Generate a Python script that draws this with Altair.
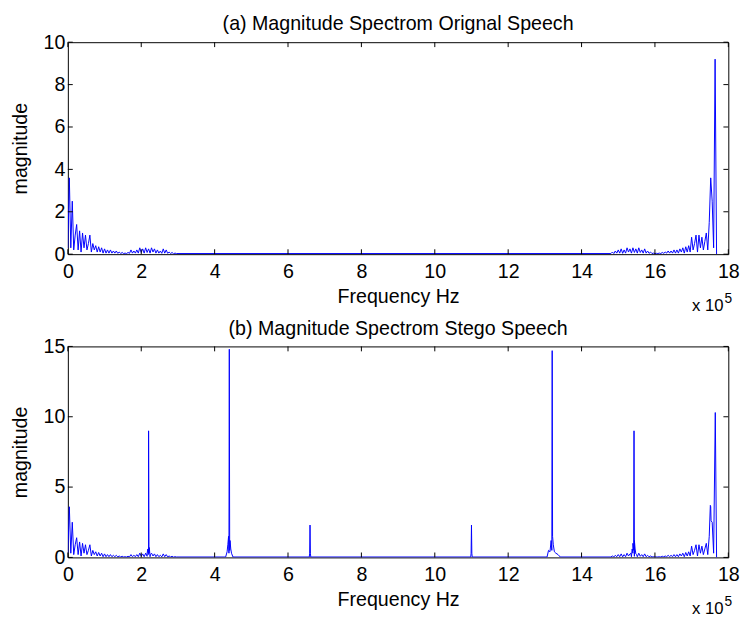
import altair as alt
import pandas as pd

FONT = "Liberation Sans"
W = 673
H_TOP = 216
H_BOT = 215

# Frequency given in units of 1e5 Hz (axis shows "x 10^5")
STEP = 0.04
LOW_START = 0.0
HIGH_START = 14.80

# Original speech spectrum, low-frequency end (0.00 .. 2.96)
orig_low_mag = [
    0.3, 3.6, 0.3, 2.5, 0.2, 0.9, 1.4, 0.2, 1.1, 0.1,
    1.0, 0.3, 0.9, 0.2, 0.5, 0.9, 0.1, 0.5, 0.2, 0.4,
    0.1, 0.35, 0.1, 0.3, 0.05, 0.25, 0.05, 0.2, 0.05, 0.2,
    0.05, 0.15, 0.05, 0.15, 0.04, 0.1, 0.03, 0.08, 0.03, 0.05,
    0.03, 0.08, 0.04, 0.2, 0.05, 0.15, 0.05, 0.2, 0.05, 0.3,
    0.08, 0.25, 0.05, 0.3, 0.08, 0.25, 0.05, 0.3, 0.1, 0.25,
    0.05, 0.2, 0.05, 0.15, 0.04, 0.25, 0.05, 0.2, 0.04, 0.1,
    0.03, 0.08, 0.02, 0.05, 0.03,
]

# Original speech spectrum, high-frequency end (14.80 .. 17.68)
orig_high_mag = [
    0.03, 0.1, 0.03, 0.15, 0.05, 0.2, 0.05, 0.25, 0.04, 0.2,
    0.05, 0.3, 0.1, 0.25, 0.05, 0.3, 0.08, 0.25, 0.05, 0.3,
    0.08, 0.2, 0.05, 0.25, 0.05, 0.15, 0.04, 0.1, 0.03, 0.05,
    0.03, 0.04, 0.03, 0.05, 0.03, 0.08, 0.04, 0.1, 0.05, 0.15,
    0.05, 0.15, 0.05, 0.2, 0.05, 0.2, 0.05, 0.25, 0.1, 0.3,
    0.05, 0.35, 0.1, 0.4, 0.1, 0.8, 0.2, 0.5, 0.9, 0.1,
    0.9, 0.3, 0.8, 0.2, 0.6, 1.0, 0.2, 1.5, 3.6, 2.5,
    0.3, 9.2, 0.0,
]

# Extra components in the stego speech spectrum (embedded tones and skirts)
stego_extra_f = [
    2.16, 2.18, 2.19, 2.20, 2.21, 2.22, 2.25,
    4.30, 4.34, 4.36, 4.38, 4.39, 4.40, 4.41, 4.42, 4.44, 4.46, 4.50,
    6.58, 6.59, 6.60, 6.61, 6.62,
    10.98, 10.99, 11.00, 11.01, 11.02,
    13.06, 13.10, 13.14, 13.17, 13.19, 13.20, 13.21, 13.23, 13.26, 13.30, 13.36, 13.42,
    15.34, 15.38, 15.40, 15.42, 15.43, 15.44, 15.46, 15.50,
    17.51, 17.53, 17.645,
]
stego_extra_m = [
    0.3, 0.6, 0.2, 9.0, 0.3, 0.7, 0.2,
    0.03, 0.4, 0.9, 1.5, 0.3, 14.8, 0.5, 1.2, 0.6, 0.3, 0.03,
    0.03, 0.3, 2.3, 0.3, 0.03,
    0.03, 0.3, 2.3, 0.3, 0.03,
    0.03, 0.5, 0.4, 1.2, 0.5, 14.7, 1.5, 0.9, 0.4, 0.3, 0.2, 0.03,
    0.3, 0.6, 1.0, 0.5, 9.0, 1.2, 0.6, 0.2,
    3.7, 2.6, 10.3,
]

x_ticks = [0, 2, 4, 6, 8, 10, 12, 14, 16, 18]
y_ticks_top = [0, 2, 4, 6, 8, 10]
y_ticks_bot = [0, 5, 10, 15]

low_f = [round(LOW_START + i * STEP, 2) for i in range(len(orig_low_mag))]
high_f = [round(HIGH_START + i * STEP, 2) for i in range(len(orig_high_mag))]

orig_df = pd.DataFrame({"f": low_f + high_f, "m": orig_low_mag + orig_high_mag})
stego_df = pd.concat(
    [orig_df, pd.DataFrame({"f": stego_extra_f, "m": stego_extra_m})],
    ignore_index=True,
).sort_values("f", kind="stable")

exp_df = pd.DataFrame({"base": ["x 10"], "exp": ["5"]})


def panel(df, ymax, yticks, title, H):
    xscale = alt.Scale(domain=[0, 18], nice=False, zero=False)
    yscale = alt.Scale(domain=[0, ymax], nice=False, zero=False)
    xaxis = alt.Axis(
        values=x_ticks, title="Frequency Hz", grid=False, ticks=False, domain=False,
        labelFontSize=20, labelFont=FONT, labelColor="black", labelPadding=8,
        labelFlush=False, titleFontSize=20, titleFont=FONT, titleFontWeight="normal",
        titleColor="black", titleY=33, titleBaseline="top",
    )
    yaxis = alt.Axis(
        values=yticks, title="magnitude", grid=False, ticks=False, domain=False,
        labelFontSize=20, labelFont=FONT, labelColor="black", labelPadding=3,
        labelFlush=False, titleFontSize=20, titleFont=FONT, titleFontWeight="normal",
        titleColor="black", titleX=-38,
    )
    xs = alt.X("f:Q", scale=xscale, axis=xaxis)
    ys = alt.Y("m:Q", scale=yscale, axis=yaxis)

    line = alt.Chart(df).mark_line(color="#0000ff", strokeWidth=1, clip=True).encode(x=xs, y=ys)

    xt = pd.DataFrame({"f": x_ticks})
    yt = pd.DataFrame({"m": yticks})
    tick_style = dict(color="black", strokeWidth=1)
    xb = alt.Chart(xt).mark_rule(**tick_style).encode(x=xs, y=alt.value(H), y2=alt.value(H - 5))
    xtp = alt.Chart(xt).mark_rule(**tick_style).encode(x=xs, y=alt.value(0), y2=alt.value(5))
    yl = alt.Chart(yt).mark_rule(**tick_style).encode(y=ys, x=alt.value(0), x2=alt.value(5))
    yr = alt.Chart(yt).mark_rule(**tick_style).encode(y=ys, x=alt.value(W), x2=alt.value(W - 5))

    base_txt = alt.Chart(exp_df).mark_text(
        align="left", baseline="alphabetic", fontSize=17, font=FONT, color="black"
    ).encode(x=alt.value(636), y=alt.value(H + 58), text="base:N")
    exp_txt = alt.Chart(exp_df).mark_text(
        align="left", baseline="alphabetic", fontSize=14, font=FONT, color="black"
    ).encode(x=alt.value(669), y=alt.value(H + 50), text="exp:N")

    return alt.layer(line, xb, xtp, yl, yr, base_txt, exp_txt).properties(
        width=W, height=H,
        title=alt.TitleParams(
            title, fontSize=20, font=FONT, fontWeight="normal", color="black",
            anchor="middle", offset=-2,
        ),
    )


top = panel(orig_df, 10, y_ticks_top, "(a) Magnitude Spectrom Orignal Speech", H_TOP)
bot = panel(stego_df, 15, y_ticks_bot, "(b) Magnitude Spectrom Stego Speech", H_BOT)

chart = alt.vconcat(top, bot, spacing=3).properties(
    padding={"left": 2, "top": 0, "right": 5, "bottom": 0}
).configure_view(stroke="black", strokeWidth=1)

chart.save("out.html", embed_options={"renderer": "svg", "actions": False})
